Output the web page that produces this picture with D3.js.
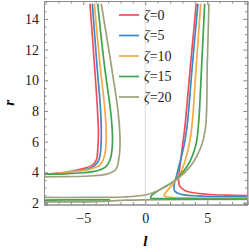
<!DOCTYPE html>
<html>
<head>
<meta charset="utf-8">
<script src="https://cdn.jsdelivr.net/npm/d3@7"></script>
<style>
  body { margin: 0; background: #fff; }
</style>
</head>
<body>
<div id="chart"></div>
<script>
// legend labels
var zetas = ["0", "5", "10", "15", "20"];
var colors = ["#ef4f5a", "#3d89c5", "#f5a843", "#3ba54b", "#a19f7c"];

// curves, [l, r]
var leftBranch = [
  [[-4.46, 15], [-4.1, 11], [-3.85, 8], [-3.78, 6.5], [-3.85, 5.3], [-3.95, 4.8], [-4.3, 4.45], [-5.27, 4.2], [-6.5, 4.0], [-8.17, 3.87]],
  [[-4.27, 15], [-3.9, 11], [-3.6, 8], [-3.55, 6.5], [-3.6, 5.4], [-3.75, 4.8], [-4.19, 4.37], [-5.0, 4.15], [-6.5, 3.97], [-8.17, 3.87]],
  [[-4.11, 15], [-3.65, 11], [-3.25, 8], [-3.15, 6.5], [-3.2, 5.5], [-3.35, 4.9], [-3.65, 4.48], [-4.46, 4.2], [-5.8, 4.04], [-8.17, 3.86]],
  [[-3.84, 15], [-3.3, 11], [-2.8, 8], [-2.65, 6.5], [-2.68, 5.5], [-2.85, 4.8], [-3.2, 4.35], [-3.8, 4.12], [-5, 3.97], [-6.5, 3.9], [-8.17, 3.88]],
  [[-3.55, 15], [-2.75, 11], [-2.2, 8], [-2.05, 6.5], [-2.05, 5.5], [-2.15, 4.8], [-2.36, 4.2], [-3.1, 3.88], [-4.5, 3.76], [-6.5, 3.72], [-8.17, 3.7]]
];
var rightBranch = [
  [[4.11, 15], [3.65, 11], [3.2, 7], [3.0, 5.72], [2.8, 4.41], [2.68, 3.5], [2.78, 3.1], [3.26, 2.78], [5, 2.57], [6.5, 2.51], [8.23, 2.48]],
  [[4.25, 15], [3.8, 11], [3.37, 7], [3.12, 5.72], [2.72, 4.41], [2.45, 3.55], [2.31, 3.1], [2.37, 2.78], [2.85, 2.57], [5, 2.43], [8.23, 2.4]],
  [[4.47, 15], [4.12, 11], [3.76, 7], [3.52, 5.72], [2.98, 4.2], [2.31, 3.32], [1.64, 2.67], [1.52, 2.48], [1.91, 2.38], [3.5, 2.33], [8.23, 2.31]],
  [[4.79, 15], [4.55, 11], [4.28, 7], [4.06, 5.72], [3.39, 4.41], [2.31, 3.43], [1.24, 2.9], [0.48, 2.46], [0.43, 2.33], [1.5, 2.28], [8.23, 2.26]],
  [[5.14, 15], [5.0, 11], [4.87, 7], [4.52, 5.72], [3.66, 4.41], [2.58, 3.55], [0.97, 2.78], [0, 2.52], [-1.72, 2.39], [-4.5, 2.36], [-8.17, 2.36]]
];
// flat pieces near the bottom
var greenFlat = [[-8.17, 2.19], [-5, 2.2], [-2.85, 2.21]];
var khakiFlat = [[-8.17, 2.07], [-4, 2.09], [-1.5, 2.18], [2, 2.22], [8.23, 2.23]];

var xMajor = [-5, 0, 5];
var yMajor = [2, 4, 6, 8, 10, 12, 14];
var xMinor = d3.range(-8, 9, 1).filter(function (v) { return xMajor.indexOf(v) < 0; });
var yMinor = d3.range(2, 15.01, 0.5).filter(function (v) { return yMajor.indexOf(v) < 0; });

var W = 249, H = 252;
var padL = 44, padR = 247.3, padT = 1, padB = 204.5;

var x = d3.scaleLinear().domain([-8.17, 8.23]).range([padL, padR]);
var y = d3.scaleLinear().domain([1.9, 15.17]).range([padB, padT]);

var svg = d3.select("#chart").append("svg")
  .attr("width", W)
  .attr("height", H);

svg.append("defs").append("clipPath").attr("id", "clip")
  .append("rect")
  .attr("x", padL).attr("y", padT)
  .attr("width", padR - padL).attr("height", padB - padT);

// grid line at l = 0
svg.append("line")
  .attr("x1", x(0)).attr("x2", x(0))
  .attr("y1", padT).attr("y2", padB)
  .attr("stroke", "#dcdcdc")
  .attr("stroke-width", 1);

var line = d3.line()
  .x(function (d) { return x(d[0]); })
  .y(function (d) { return y(d[1]); })
  .curve(d3.curveCatmullRom.alpha(0.5));

var plot = svg.append("g").attr("clip-path", "url(#clip)");

function draw(pts, c) {
  plot.append("path")
    .attr("d", line(pts))
    .attr("fill", "none")
    .attr("stroke", c)
    .attr("stroke-width", 1.7)
    .attr("stroke-linejoin", "round");
}

draw(khakiFlat, colors[4]);
draw(greenFlat, colors[3]);
for (var i = 0; i < zetas.length; i++) {
  draw(leftBranch[i], colors[i]);
  draw(rightBranch[i], colors[i]);
}

// frame + ticks (inward)
var bx = svg.append("g").attr("transform", "translate(0," + padB + ")");
bx.call(d3.axisBottom(x).tickValues(xMajor).tickSize(-4).tickPadding(9)
  .tickFormat(function (d) { return d < 0 ? "\u2212" + Math.abs(d) : d; }));
bx.append("g").call(d3.axisBottom(x).tickValues(xMinor).tickSize(-2.5).tickFormat(""));

var tx = svg.append("g").attr("transform", "translate(0," + padT + ")");
tx.call(d3.axisTop(x).tickValues(xMajor).tickSize(-4).tickFormat(""));
tx.append("g").call(d3.axisTop(x).tickValues(xMinor).tickSize(-2.5).tickFormat(""));

var ly = svg.append("g").attr("transform", "translate(" + padL + ",0)");
ly.call(d3.axisLeft(y).tickValues(yMajor).tickSize(-4).tickPadding(5));
ly.append("g").call(d3.axisLeft(y).tickValues(yMinor).tickSize(-2.5).tickFormat(""));

var ry = svg.append("g").attr("transform", "translate(" + padR + ",0)");
ry.call(d3.axisRight(y).tickValues(yMajor).tickSize(-4).tickFormat(""));
ry.append("g").call(d3.axisRight(y).tickValues(yMinor).tickSize(-2.5).tickFormat(""));

svg.selectAll(".domain, .tick line").attr("stroke", "#8a8a8a");
svg.selectAll(".tick text")
  .style("font-family", "Liberation Serif, serif")
  .style("font-size", "14px")
  .style("fill", "#222");

// axis labels
svg.append("text")
  .attr("x", x(0)).attr("y", 246)
  .attr("text-anchor", "middle")
  .style("font-family", "Liberation Serif, serif")
  .style("font-size", "15px")
  .style("font-style", "italic")
  .style("font-weight", "bold")
  .text("l");

svg.append("text")
  .attr("transform", "translate(14," + ((padT + padB) / 2) + ") rotate(-90)")
  .attr("text-anchor", "middle")
  .style("font-family", "Liberation Serif, serif")
  .style("font-size", "15px")
  .style("font-style", "italic")
  .style("font-weight", "bold")
  .text("r");

// legend
var legend = svg.selectAll(".legend")
  .data(zetas)
  .enter().append("g")
  .attr("class", "legend")
  .attr("transform", function (d, i) { return "translate(119," + (15 + i * 20.5) + ")"; });

legend.append("line")
  .attr("x1", 0).attr("x2", 20)
  .attr("stroke", function (d, i) { return colors[i]; })
  .attr("stroke-width", 1.7);

var lt = legend.append("text")
  .attr("x", 25)
  .attr("dy", "0.35em")
  .style("font-family", "Liberation Serif, serif")
  .style("font-size", "14px")
  .style("fill", "#222");
lt.append("tspan").style("font-style", "italic").text("\u03b6");
lt.append("tspan").text(function (d) { return "=" + d; });
</script>
</body>
</html>
